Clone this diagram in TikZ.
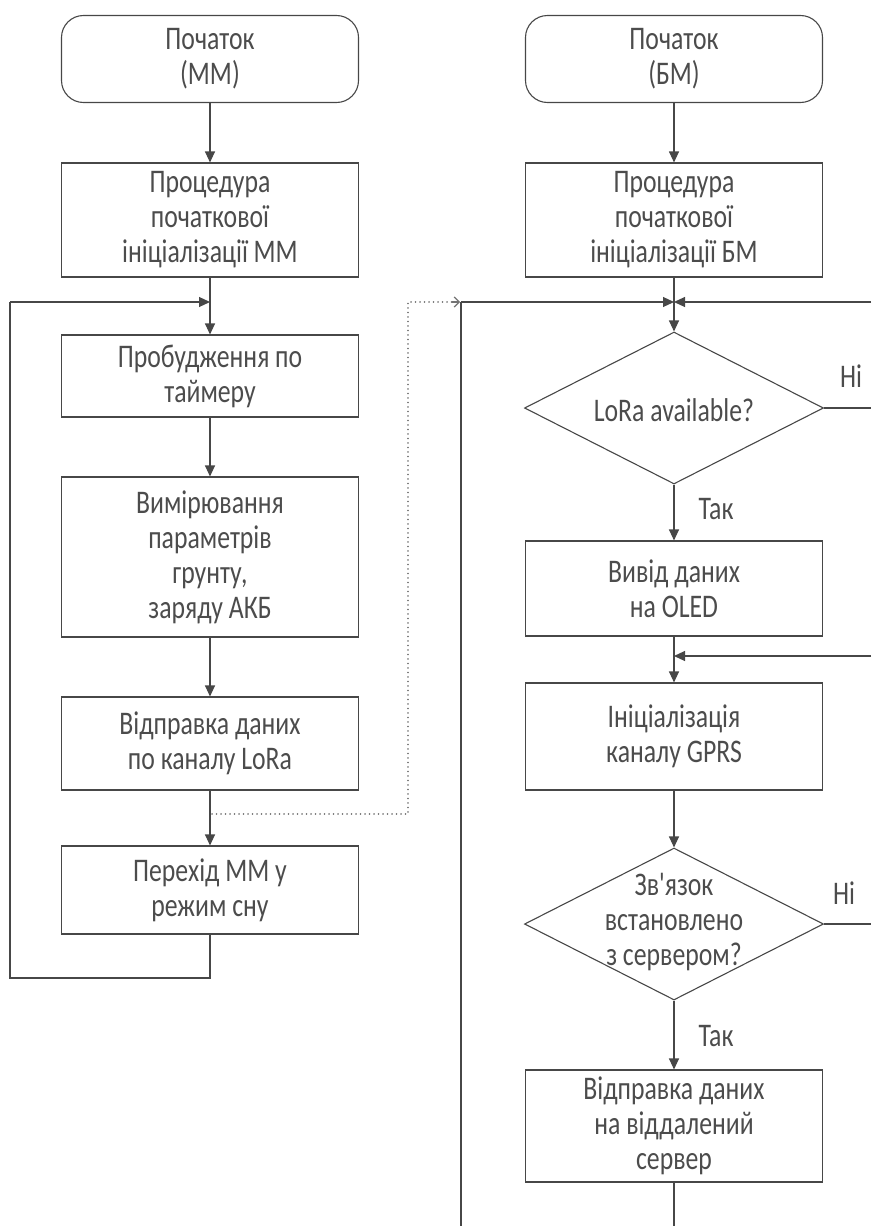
\documentclass[tikz,border=0pt]{standalone}
\usepackage{fontspec}
\setmainfont{Carlito}[FakeStretch=0.78,Ligatures=TeXOff]
\usetikzlibrary{arrows.meta,shapes.geometric}
\begin{document}
\begin{tikzpicture}[x=1pt,y=-1pt,
  line/.style={draw=black!72, line width=1.1pt},
  arr/.style={line, -{Triangle[length=11pt,width=10pt]}},
  dots/.style={draw=black!55, line width=1.6pt, line cap=round, dash pattern=on 0.1pt off 4.4pt},
  dotarr/.style={draw=black!55, line width=1.2pt, -{Straight Barb[length=5pt,width=10pt]}},
  txt/.style={font=\fontsize{33}{35}\selectfont, text=black!70, align=center, inner sep=0pt},
  box/.style={line, rectangle, minimum width=297pt, txt},
  startbox/.style={box, rounded corners=22pt},
  dec/.style={line, diamond, minimum width=299pt, minimum height=152pt, inner sep=0pt},
  lab/.style={txt}
]
\useasboundingbox (0,0) rectangle (871,1226);
% left column
\node[startbox, minimum height=87pt] (a1) at (210,59) {Початок\\(ММ)};
\node[box, minimum height=114pt] (a2) at (210,220) {Процедура\\початкової\\ініціалізації ММ};
\node[box, minimum height=82pt] (a3) at (210,376) {Пробудження по\\таймеру};
\node[box, minimum height=160pt] (a4) at (210,557) {Вимірювання\\параметрів\\грунту,\\заряду АКБ};
\node[box, minimum height=93pt] (a5) at (210,743.5) {Відправка даних\\по каналу LoRa};
\node[box, minimum height=88pt] (a6) at (210,890) {Перехід ММ у\\режим сну};
\coordinate (aj) at (210,302);
\coordinate (al1) at (10,302);
\coordinate (al2) at (10,978);
\coordinate (al3) at (210,978);
\coordinate (ad) at (212,814);
\coordinate (ad1) at (408,814);
\coordinate (ad2) at (408,302);
\coordinate (ad25) at (452,302);
\coordinate (ad3) at (460,302);
\draw[arr] (a1) -- (a2);
\draw[line] (a2) -- (aj);
\draw[arr] (aj) -- (a3);
\draw[arr] (a3) -- (a4);
\draw[arr] (a4) -- (a5);
\draw[arr] (a5) -- (a6);
\draw[line] (a6) -- (al3) -- (al2) -- (al1);
\draw[arr] (al1) -- (aj);
\draw[dots] (ad) -- (ad1) -- (ad2) -- (ad25);
\draw[dotarr] (ad25) -- (ad3);
% right column
\node[startbox, minimum height=87pt] (b1) at (674,59) {Початок\\(БМ)};
\node[box, minimum height=114pt] (b2) at (674,220) {Процедура\\початкової\\ініціалізації БМ};
\node[dec] (d1) at (674,408) {};
\node[txt] at (674,410) {LoRa available?};
\node[box, minimum height=95pt] (b3) at (674,588.5) {Вивід даних\\на OLED};
\node[box, minimum height=107pt] (b4) at (674,736.5) {Ініціалізація\\каналу GPRS};
\node[dec] (d2) at (674,924) {};
\node[txt] at (674,922) {Зв'язок\\встановлено\\з сервером?};
\node[box, minimum height=112pt] (b5) at (674,1126) {Відправка даних\\на віддалений\\сервер};
\coordinate (bj) at (674,302);
\coordinate (bl1) at (461,1226);
\coordinate (bl2) at (461,302);
\coordinate (br1) at (871,302);
\coordinate (bn1) at (871,408);
\coordinate (bm) at (674,656);
\coordinate (br2) at (871,656);
\coordinate (bn2) at (871,924);
\coordinate (be) at (674,1226);
\draw[arr] (b1) -- (b2);
\draw[line] (b2) -- (bj);
\draw[arr] (bj) -- (d1.north);
\draw[line] (bl1) -- (bl2);
\draw[arr] (bl2) -- (bj);
\draw[arr] (br1) -- (bj);
\draw[line] (d1.east) -- (bn1);
\draw[arr] (d1.south) -- (b3);
\draw[line] (b3) -- (bm);
\draw[arr] (br2) -- (bm);
\draw[arr] (bm) -- (b4);
\draw[arr] (b4) -- (d2.north);
\draw[line] (d2.east) -- (bn2);
\draw[arr] (d2.south) -- (b5);
\draw[line] (b5) -- (be);
\node[lab] (n1) at (851,376) {Ні};
\node[lab] (t1) at (716,509) {Так};
\node[lab] (n2) at (844,893) {Ні};
\node[lab] (t2) at (716,1036) {Так};
\end{tikzpicture}
\end{document}
